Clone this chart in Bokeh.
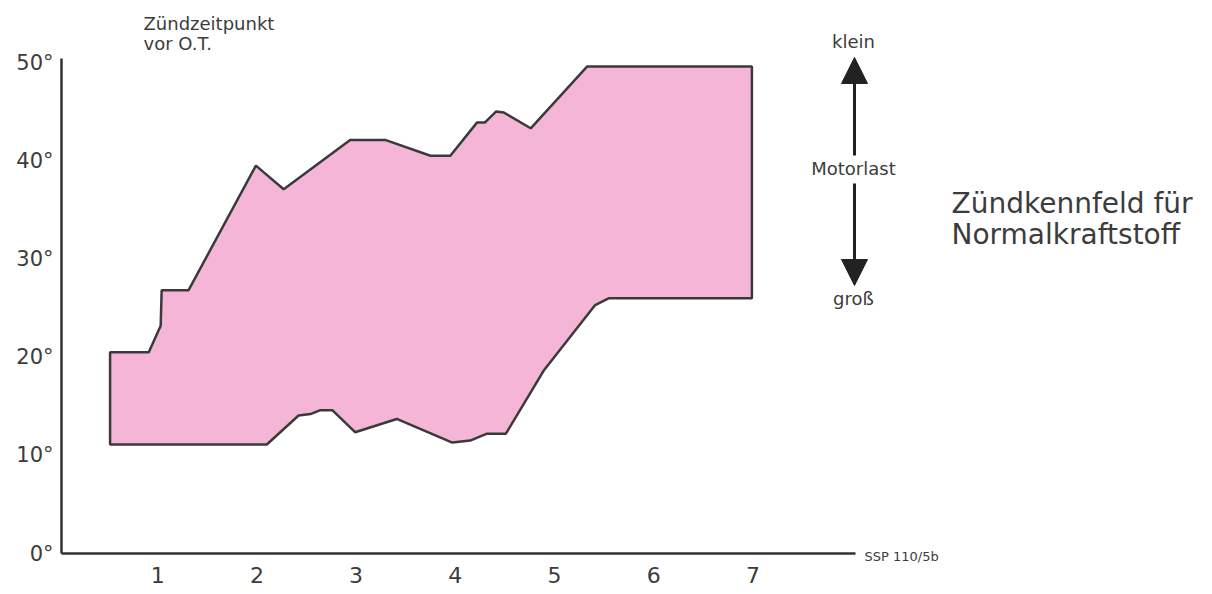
from bokeh.plotting import figure
from bokeh.models import Range1d, FixedTicker, Label, Arrow, NormalHead
from bokeh.embed import file_html
from bokeh.resources import INLINE

# --- data ---
upper_x = [0.52, 0.91, 1.03, 1.04, 1.31, 1.99, 2.27, 2.94, 3.30, 3.75, 3.95, 4.22, 4.30, 4.41, 4.49, 4.76, 5.33, 6.99]
upper_y = [20.5, 20.5, 23.2, 26.8, 26.8, 39.5, 37.1, 42.1, 42.1, 40.5, 40.5, 43.9, 43.9, 45.0, 44.9, 43.3, 49.6, 49.6]
lower_x = [6.99, 5.55, 5.41, 4.89, 4.51, 4.32, 4.15, 3.97, 3.41, 2.99, 2.76, 2.64, 2.54, 2.42, 2.10, 0.52]
lower_y = [26.0, 26.0, 25.3, 18.6, 12.2, 12.2, 11.5, 11.3, 13.7, 12.35, 14.6, 14.6, 14.2, 14.05, 11.1, 11.1]
x_ticks = [1, 2, 3, 4, 5, 6, 7]
x_tick_labels = ["1", "2", "3", "4", "5", "6", "7"]
y_ticks = [0, 10, 20, 30, 40, 50]
y_tick_labels = ["0°", "10°", "20°", "30°", "40°", "50°"]

FONT = "DejaVu Sans"
TXT = "#3c3c3c"
W, H = 1212, 594
PXU, PYU = 99.2, 9.82  # pixels per unit
X0PX, Y0PX = 58.0, 553.0

def dx(px):
    return (px - X0PX) / PXU

def dy(py):
    return (Y0PX - py) / PYU

p = figure(width=W, height=H, output_backend="svg", toolbar_location=None,
           x_range=Range1d(dx(0), dx(W)), y_range=Range1d(dy(H), dy(0)),
           min_border_left=0, min_border_right=0, min_border_top=0,
           min_border_bottom=0)
p.grid.visible = False
p.outline_line_color = None
p.background_fill_color = "white"
p.border_fill_color = "white"

poly_x = upper_x + lower_x
poly_y = upper_y + lower_y
p.patch(poly_x, poly_y, fill_color="#F5B5D6", line_color="#3a3a3a", line_width=2.5)

for ax in (p.xaxis[0], p.yaxis[0]):
    ax.axis_line_color = "#333333"
    ax.axis_line_width = 2.5
    ax.major_tick_out = 0
    ax.major_tick_in = 0
    ax.minor_tick_out = 0
    ax.minor_tick_in = 0
    ax.major_label_text_font = FONT
    ax.major_label_text_color = TXT

p.xaxis.fixed_location = 0
p.xaxis.bounds = (dx(61), dx(855))
p.xaxis.ticker = FixedTicker(ticks=x_ticks)
p.xaxis.major_label_overrides = {t: l for t, l in zip(x_ticks, x_tick_labels)}
p.xaxis.major_label_text_font_size = "22px"
p.xaxis.major_label_standoff = 13

p.yaxis.fixed_location = dx(61)
p.yaxis.bounds = (0, dy(58))
p.yaxis.ticker = FixedTicker(ticks=y_ticks)
p.yaxis.major_label_overrides = {t: l for t, l in zip(y_ticks, y_tick_labels)}
p.yaxis.major_label_text_font_size = "21px"
p.yaxis.major_label_standoff = 8

def label(txt, px, py, size, align="left"):
    p.add_layout(Label(x=dx(px), y=dy(py), text=txt, text_font=FONT,
                       text_font_size=size, text_color=TXT,
                       text_align=align, text_baseline="middle"))

label("Zündzeitpunkt", 143, 23, "18px")
label("vor O.T.", 143, 43, "18px")
label("SSP 110/5b", 864, 556, "13px")
label("klein", 853, 41, "18px", "center")
label("Motorlast", 853, 168, "18px", "center")
label("groß", 853, 298, "18px", "center")
label("Zündkennfeld für", 951, 203, "28px")
label("Normalkraftstoff", 951, 234, "28px")

ax_x = dx(854)
p.add_layout(Arrow(x_start=ax_x, y_start=dy(155), x_end=ax_x, y_end=dy(57),
                   line_color="#222222", line_width=3,
                   end=NormalHead(size=26, fill_color="#222222", line_color="#222222")))
p.add_layout(Arrow(x_start=ax_x, y_start=dy(183), x_end=ax_x, y_end=dy(285),
                   line_color="#222222", line_width=3,
                   end=NormalHead(size=26, fill_color="#222222", line_color="#222222")))

open("out.html", "w").write(file_html(p, INLINE))
